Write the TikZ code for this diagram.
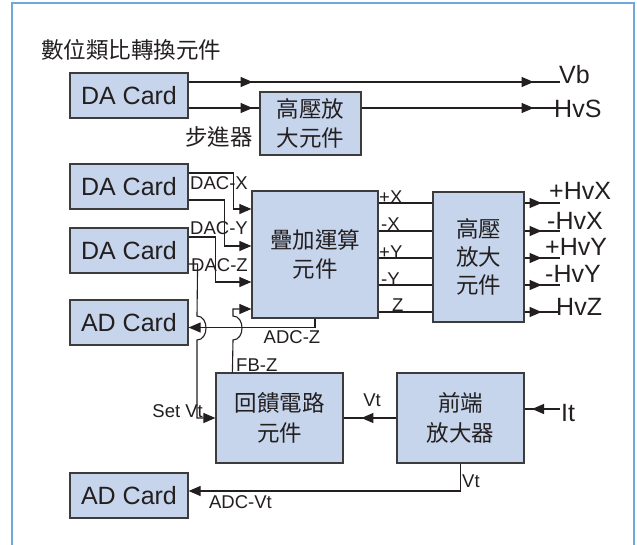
\documentclass[tikz,border=0pt]{standalone}
\usepackage{fontspec}
\setmainfont{Liberation Sans}
\newfontfamily\cjk{Noto Sans CJK TC}
\usetikzlibrary{arrows.meta,decorations.markings,calc}
\definecolor{boxfill}{HTML}{C6D5EC}
\definecolor{boxline}{HTML}{3C3C3C}
\definecolor{ink}{HTML}{231F20}
\definecolor{framecol}{HTML}{6FA8DC}
\tikzset{
  card/.style={draw=boxline, fill=boxfill, line width=1.2pt, minimum width=118pt, minimum height=45pt, inner sep=0pt, font=\fontsize{25}{30}\selectfont, text=ink},
  cbox/.style={draw=boxline, fill=boxfill, line width=1.2pt, inner sep=0pt, align=center, font=\cjk\fontsize{22.5}{29.5}\selectfont, text=ink},
  cjktext/.style={font=\cjk\fontsize{22.5}{27}\selectfont, text=ink, inner sep=0pt},
  wire/.style={draw=ink, color=ink, line width=1.1pt},
  tip/.style={-{Triangle[length=12pt,width=10pt]}},
  midtip/.style={postaction={decorate, decoration={markings, mark=at position #1 with {\arrow{Triangle[length=12pt,width=10pt]}}}}},
  big/.style={font=\fontsize{25}{30}\selectfont, text=ink, inner sep=0pt},
  small/.style={font=\fontsize{18.5}{22}\selectfont, text=ink, inner sep=0pt}
}
\begin{document}
\begin{tikzpicture}[x=1pt,y=-1pt]
\useasboundingbox (0,0) rectangle (637,544);
\fill[white] (0,0) rectangle (637,544);
\draw[framecol, line width=1.5pt] (12,560) -- (12,3) -- (634,3) -- (634,560);

% title
\node[cjktext, anchor=west] (title) at (41,50) {數位類比轉換元件};

% blocks
\node[card] (da1) at (129,95.5) {DA Card};
\node[cbox, minimum width=101pt, minimum height=63pt] (hv1) at (310.5,123.5) {高壓放\\大元件};
\node[cjktext] (stepper) at (219,137) {步進器};
\node[card] (da2) at (129,186.5) {DA Card};
\node[card] (da3) at (129,250.5) {DA Card};
\node[card] (ad1) at (129,322.5) {AD Card};
\node[cbox, minimum width=126pt, minimum height=127pt] (sum) at (315,254.5) {疊加運算\\元件};
\node[cbox, minimum width=91pt, minimum height=130pt, font=\cjk\fontsize{22.5}{28}\selectfont] (hv2) at (478.5,257) {高壓\\放大\\元件};
\node[cbox, minimum width=127pt, minimum height=90pt] (fb) at (279.5,418) {回饋電路\\元件};
\node[cbox, minimum width=127pt, minimum height=90pt] (pre) at (460.5,418) {前端\\放大器};
\node[card] (ad2) at (129,495.5) {AD Card};

% Vb and HvS
\coordinate (vbend) at (560,82);
\draw[wire, midtip=64pt, midtip=345pt] (da1.east |- vbend) -- (vbend);
\node[big, anchor=base west] (vb) at (559,83) {Vb};
\draw[wire, midtip=64pt] ($(da1.east)+(0,12.5)$) coordinate (hs0) -- (hs0 -| hv1.west);
\coordinate (hvsend) at (557,108);
\draw[wire, midtip=172pt] (hv1.east |- hvsend) -- (hvsend);
\node[big, anchor=base west] (hvs) at (554,117) {HvS};

% DAC lines
\draw[wire, tip] ($(da2.east)+(0,-13.5)$) -- ++(45,0) |- ($(sum.west)+(0,-45.5)$);
\draw[wire, tip] ($(da2.east)+(0,13.5)$) -- ++(36,0) |- ($(sum.west)+(0,-8.5)$);
\draw[wire, tip] ($(da3.east)+(0,-13.5)$) -- ++(27,0) |- ($(sum.west)+(0,27.5)$);
\node[small, anchor=west] (dacx) at (190,183.5) {DAC-X};
\node[small, anchor=west] (dacy) at (190,228.5) {DAC-Y};
\node[small, anchor=west] (dacz) at (191,265) {DAC-Z};

% ADC-Z
\draw[wire, tip] (sum.south) |- ($(ad1.east)+(0,5)$);
\node[small] (adcz) at (292,337) {ADC-Z};

% Set Vt with jump
\draw[wire, tip] ($(da3.east)+(0,13.5)$) -- ++(9,0) -- (197,316) .. controls (209,316) and (209,340) .. (197,340) |- (fb.west);
\node[small, anchor=east] (setvt) at (203,411) {Set Vt};

% FB-Z with jump
\draw[wire, tip] ($(fb.north west)+(17,0)$) -- (233,340) .. controls (245,340) and (245,316) .. (233,316) |- ($(sum.west)+(0,54.5)$);
\node[small, anchor=west] (fbz) at (236,365) {FB-Z};

% sum -> hv2
\foreach \yy/\nm in {203/a,231/b,258/c,285/d,312/e}{
  \coordinate (r\nm) at (400,\yy);
  \draw[wire] (sum.east |- r\nm) -- (hv2.west |- r\nm);
}
\node[small, anchor=base west] (px) at (379,203) {+X};
\node[small, anchor=base west] (mx) at (381,230.5) {-X};
\node[small, anchor=base west] (py) at (379,258) {+Y};
\node[small, anchor=base west] (my) at (381,285) {-Y};
\node[small, anchor=base west] (pz) at (392,311) {Z};

% hv2 outputs
\foreach \yy/\nm in {203/a,231/b,258/c,285/d,312/e}{
  \coordinate (o\nm) at (560,\yy);
  \draw[wire, midtip=17pt] (hv2.east |- o\nm) -- (o\nm);
}
\node[big, anchor=base west] (hvxp) at (549,199) {+HvX};
\node[big, anchor=base west] (hvxm) at (547,229) {-HvX};
\node[big, anchor=base west] (hvyp) at (545,255) {+HvY};
\node[big, anchor=base west] (hvym) at (545,282) {-HvY};
\node[big, anchor=base west] (hvz) at (556,315) {HvZ};

% pre -> fb
\draw[wire, midtip=35pt] (pre.west) -- (fb.east);
\node[small] (vt1) at (372,400) {Vt};

% It
\coordinate (itstart) at (560,409);
\draw[wire, midtip=28pt] (itstart) -- (pre.east |- itstart);
\node[big, anchor=west] (it) at (561,413) {It};

% Vt -> AD card
\draw[wire, tip] (pre.south) |- ($(ad2.east)+(0,-4.5)$);
\node[small, anchor=west] (vt2) at (462,481) {Vt};
\node[small] (adcvt) at (240.5,502) {ADC-Vt};
\end{tikzpicture}
\end{document}
